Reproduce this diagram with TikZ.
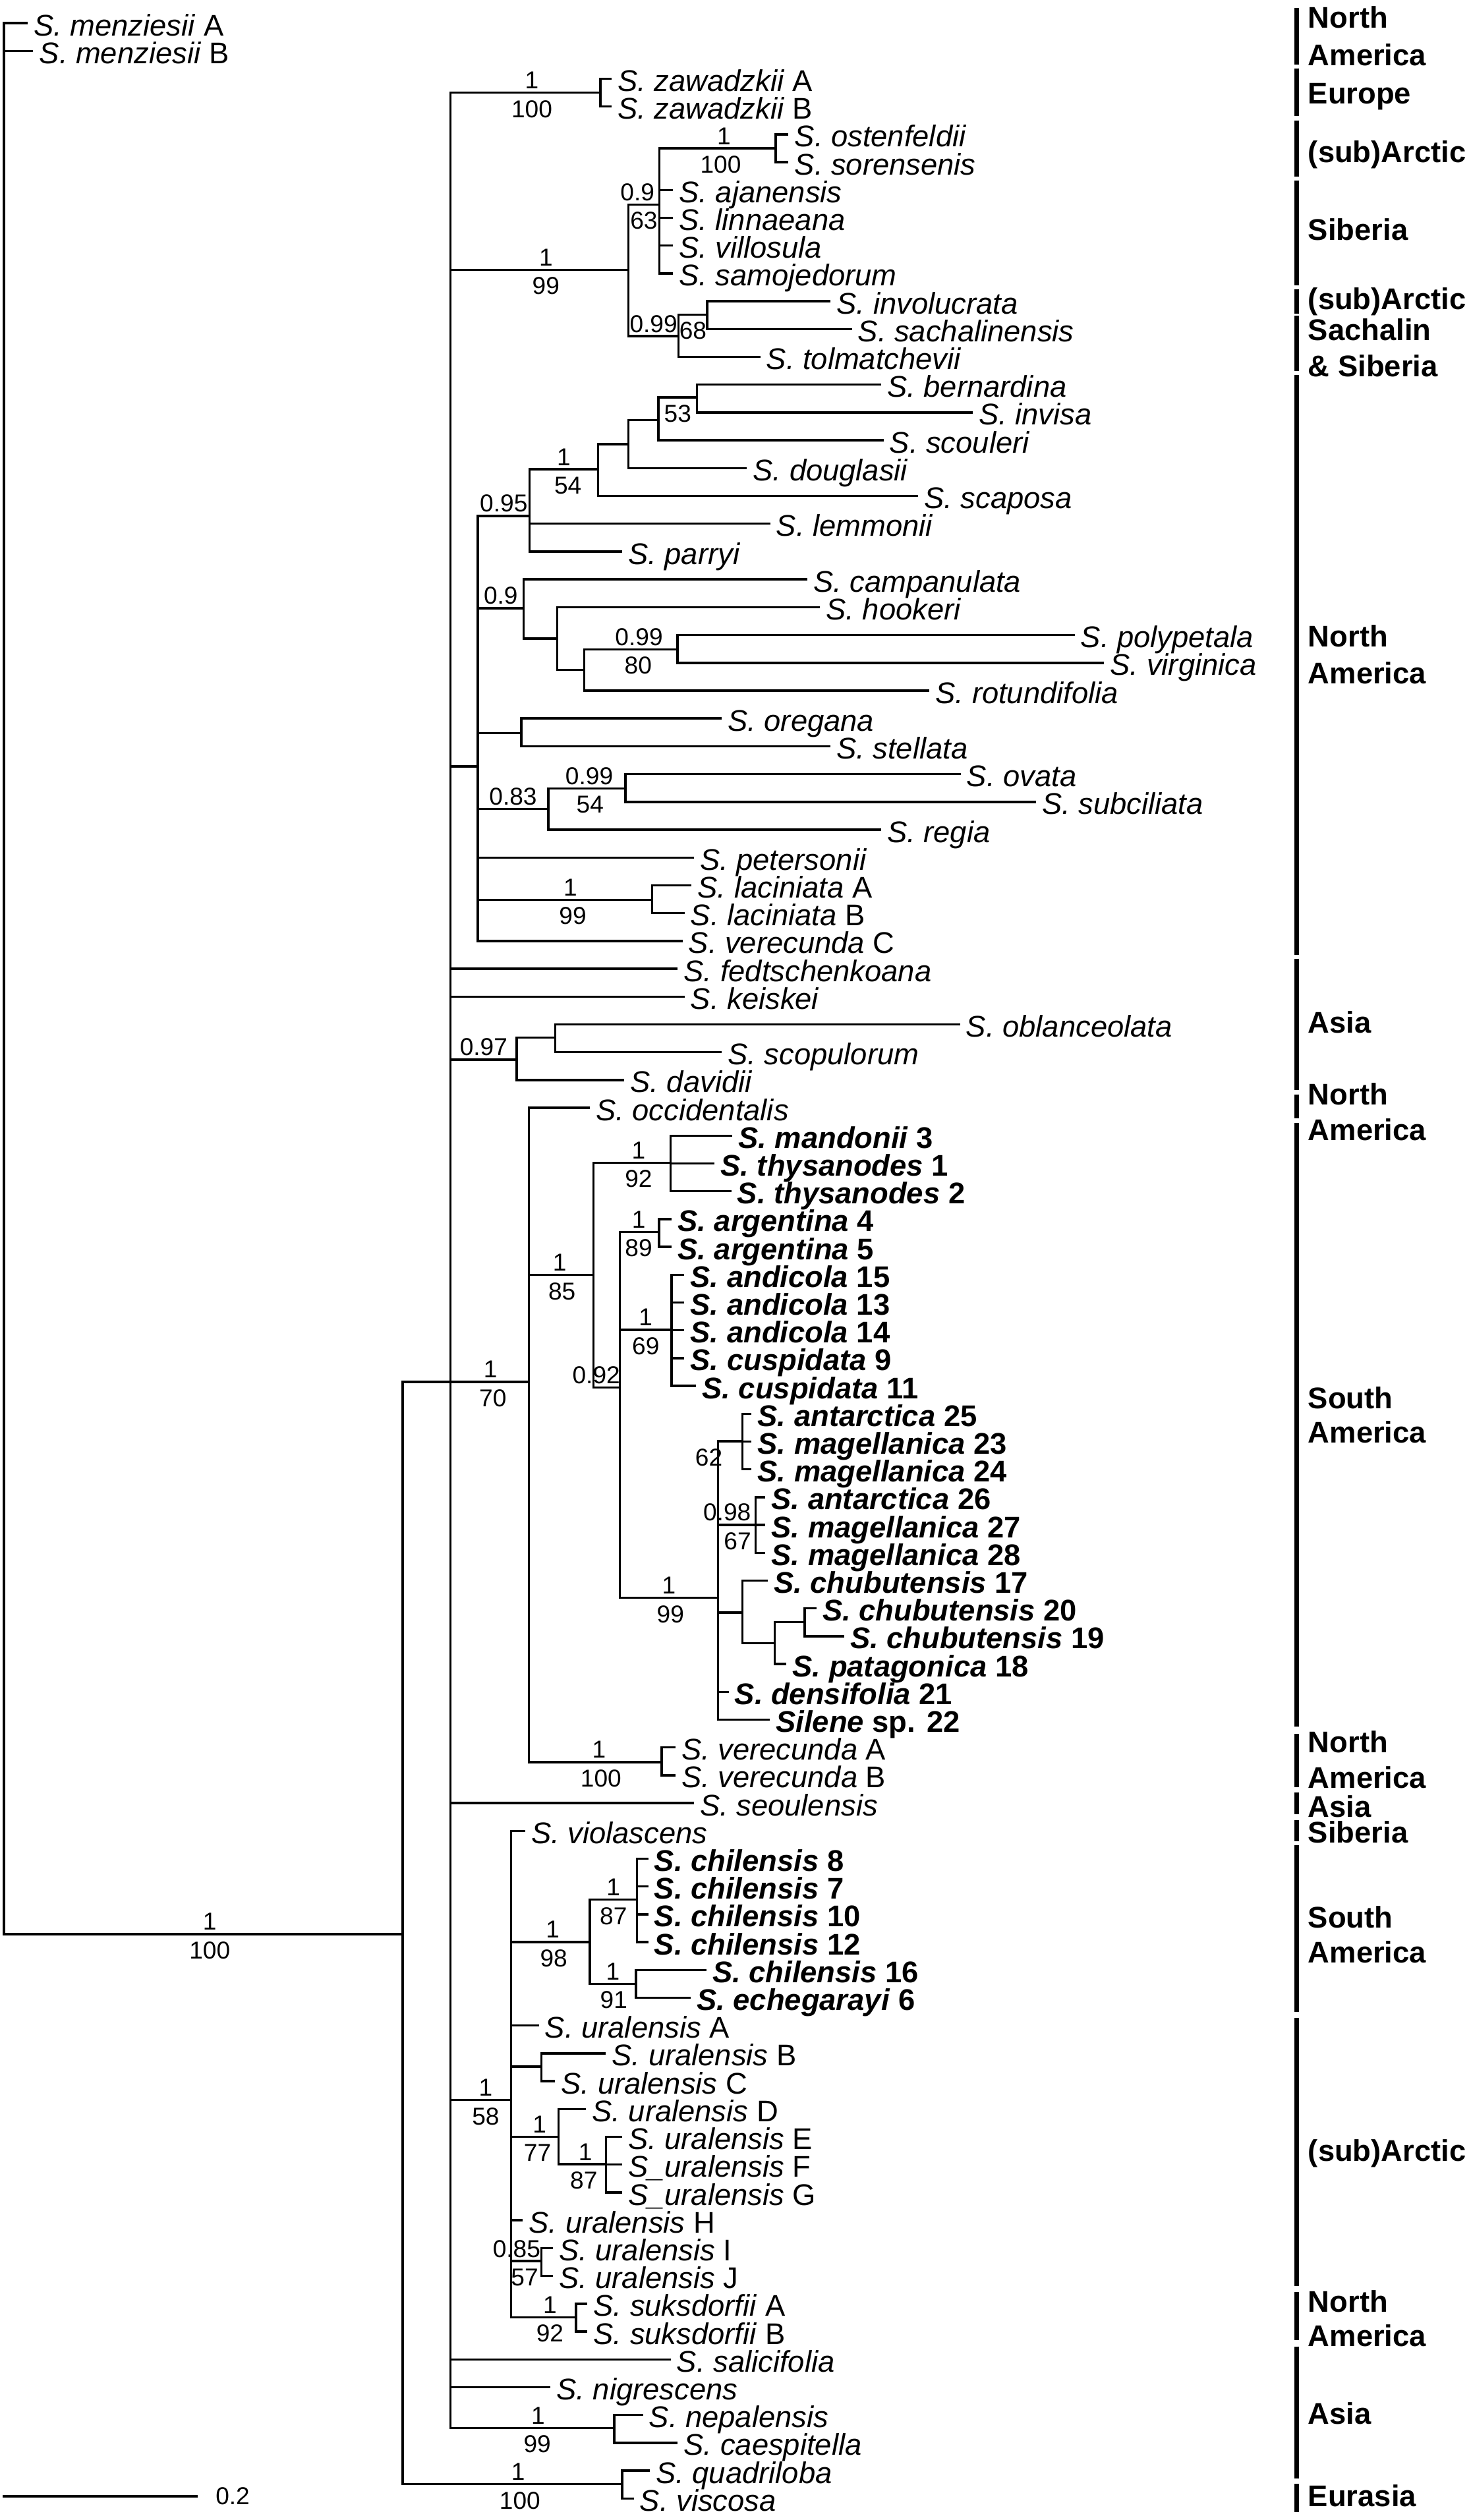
\documentclass[tikz,border=0pt]{standalone}
\usepackage{fontspec}
\setmainfont{Liberation Sans}
\usetikzlibrary{positioning}

\newcommand{\spn}[1]{\textit{S. #1}}
\newcommand{\spb}[2]{\textbf{\textit{S. #1} #2}}
\newcommand{\taxsize}{\fontsize{18.6}{22}\selectfont}
\newcommand{\supsize}{\fontsize{15.2}{18}\selectfont}

\tikzset{
  branch/.style={line width=1.4pt},
  regionbar/.style={line width=3pt},
  taxon/.style={anchor=base west,xshift=3.6pt,yshift=-7.8pt,font=\taxsize},
  pp/.style={anchor=south,yshift=2.3pt,font=\supsize},
  bs/.style={anchor=north,yshift=-4.5pt,font=\supsize},
  region/.style={anchor=base west,font=\taxsize\bfseries}
}

\begin{document}
\begin{tikzpicture}[x=1pt,y=-1pt,every node/.style={inner sep=0pt,text depth=0pt}]
    \useasboundingbox (0,0) rectangle (915,1568);
    % internal nodes: x of the vertical line, y where the stem joins
    \foreach \n/\x/\y in {root/2.5/600,ingrp/250.5/1203.4,core/280.3/859.8,zaw/373.5/57.7,arc/391/167.9,
        sib/410.2/127.2,ost/482.6/92.3,sach/422.2/209.2,invs/440/195.8,na/297.3/476.9,c095/329.5/321,
        c154/372.1/292,cbis/390.9/276.3,c53/409.6/261.5,bern/433.7/247.3,c09/325.8/378.5,hook/346.8/397.3,
        poly/363.5/416.9,polv/421.6/404,oreg/324.4/456.2,c083/341.1/503.3,ovat/389.1/490.6,laci/405.8/559.8,
        c097/321.5/659.3,obla/345.4/645.6,c170/329/859.8,c185/369.3/793.3,c192/417.3/723.4,c092/385.6/863.3,
        c189/410.1/766.5,c169/417.9/827.4,c199/446.7/994.2,c62/461.9/896.7,c098/470/948.8,chub/461.9/1003.4,
        chb2/482/1022.5,chb3/500.7/1009.4,vere/411.6/1096.4,c158/318/1306.7,c198/367/1208.4,c187/396.3/1182,
        c191/395.7/1234.4,urbc/336.8/1285.8,c177/347.4/1329.6,c187b/377/1346.6,urij/336.8/1406.9,
        suks/358.3/1441.8,nepa/382.2/1510.8,quad/387/1545.7}
        \coordinate (\n) at (\x,\y);
    % tips and their names
    \foreach \r/\x/\lbl in {1/17.2/\spn{menziesii} A,2/20.7/\spn{menziesii} B,3/380.5/\spn{zawadzkii} A,
        4/380.5/\spn{zawadzkii} B,5/490.6/\spn{ostenfeldii},6/490.6/\spn{sorensenis},7/418.7/\spn{ajanensis},
        8/418.7/\spn{linnaeana},9/418.7/\spn{villosula},10/418.7/\spn{samojedorum},11/516.8/\spn{involucrata},
        12/530/\spn{sachalinensis},13/473/\spn{tolmatchevii},14/548.2/\spn{bernardina},15/605.2/\spn{invisa},
        16/549.7/\spn{scouleri},17/464.7/\spn{douglasii},18/571.2/\spn{scaposa},19/479.2/\spn{lemmonii},
        20/387.1/\spn{parryi},21/502.2/\spn{campanulata},22/510.2/\spn{hookeri},23/668.6/\spn{polypetala},
        24/687/\spn{virginica},25/578.3/\spn{rotundifolia},26/449/\spn{oregana},27/516.6/\spn{stellata},
        28/597.7/\spn{ovata},29/644.6/\spn{subciliata},30/548.2/\spn{regia},31/431.7/\spn{petersonii},
        32/430.3/\spn{laciniata} A,33/425.9/\spn{laciniata} B,34/424.6/\spn{verecunda} C,
        35/421.7/\spn{fedtschenkoana},36/425.9/\spn{keiskei},37/597.3/\spn{oblanceolata},
        38/449/\spn{scopulorum},39/388.4/\spn{davidii},40/367/\spn{occidentalis},
        41/455.6/\spb{mandonii}{3},42/444.6/\spb{thysanodes}{1},43/455/\spb{thysanodes}{2},
        44/417.9/\spb{argentina}{4},45/417.9/\spb{argentina}{5},46/425.8/\spb{andicola}{15},
        47/425.8/\spb{andicola}{13},48/425.8/\spb{andicola}{14},49/425.8/\spb{cuspidata}{9},
        50/433.1/\spb{cuspidata}{11},51/467.6/\spb{antarctica}{25},52/467.6/\spb{magellanica}{23},
        53/467.6/\spb{magellanica}{24},54/476.2/\spb{antarctica}{26},55/476.2/\spb{magellanica}{27},
        56/476.2/\spb{magellanica}{28},57/477.7/\spb{chubutensis}{17},58/508/\spb{chubutensis}{20},
        59/525.2/\spb{chubutensis}{19},60/489.3/\spb{patagonica}{18},61/453.3/\spb{densifolia}{21},
        62/479/\textbf{\textit{Silene} sp. 22},63/420.2/\spn{verecunda} A,64/420.2/\spn{verecunda} B,
        65/431.7/\spn{seoulensis},66/326.7/\spn{violascens},67/403.3/\spb{chilensis}{8},
        68/403.3/\spb{chilensis}{7},69/403.3/\spb{chilensis}{10},70/403.3/\spb{chilensis}{12},
        71/439.5/\spb{chilensis}{16},72/429.7/\spb{echegarayi}{6},73/335.3/\spn{uralensis} A,
        74/377/\spn{uralensis} B,75/345.4/\spn{uralensis} C,76/364.6/\spn{uralensis} D,
        77/387/\spn{uralensis} E,78/387/\textit{S\_uralensis} F,79/387/\textit{S\_uralensis} G,
        80/325.3/\spn{uralensis} H,81/344/\spn{uralensis} I,82/344/\spn{uralensis} J,
        83/365.5/\spn{suksdorfii} A,84/365.5/\spn{suksdorfii} B,85/417.3/\spn{salicifolia},
        86/342.5/\spn{nigrescens},87/400/\spn{nepalensis},88/421.7/\spn{caespitella},
        89/404.3/\spn{quadriloba},90/394.3/\spn{viscosa}} {
        \coordinate (t\r) at (\x,{14.4+17.305*(\r-1)});
        \node[taxon] (lab\r) at (t\r) {\lbl};
    }
    % branches, parent to child
    \foreach \p/\c in {root/t1,root/t2,root/ingrp,ingrp/core,ingrp/quad,core/zaw,core/arc,core/na,core/t35,
        core/t36,core/c097,core/c170,core/t65,core/c158,core/t85,core/t86,core/nepa,zaw/t3,zaw/t4,arc/sib,
        arc/sach,sib/ost,sib/t7,sib/t8,sib/t9,sib/t10,ost/t5,ost/t6,sach/invs,sach/t13,invs/t11,invs/t12,
        na/c095,na/c09,na/oreg,na/c083,na/t31,na/laci,na/t34,c095/c154,c095/t19,c095/t20,c154/cbis,c154/t18,
        cbis/c53,cbis/t17,c53/bern,c53/t16,bern/t14,bern/t15,c09/t21,c09/hook,hook/t22,hook/poly,poly/polv,
        poly/t25,polv/t23,polv/t24,oreg/t26,oreg/t27,c083/ovat,c083/t30,ovat/t28,ovat/t29,laci/t32,laci/t33,
        c097/obla,c097/t39,obla/t37,obla/t38,c170/t40,c170/c185,c170/vere,c185/c192,c185/c092,c192/t41,
        c192/t42,c192/t43,c092/c189,c092/c169,c092/c199,c189/t44,c189/t45,c169/t46,c169/t47,c169/t48,
        c169/t49,c169/t50,c199/c62,c199/c098,c199/chub,c199/t61,c199/t62,c62/t51,c62/t52,c62/t53,c098/t54,
        c098/t55,c098/t56,chub/t57,chub/chb2,chb2/chb3,chb2/t60,chb3/t58,chb3/t59,vere/t63,vere/t64,
        c158/t66,c158/c198,c158/t73,c158/urbc,c158/c177,c158/t80,c158/urij,c158/suks,c198/c187,c198/c191,
        c187/t67,c187/t68,c187/t69,c187/t70,c191/t71,c191/t72,urbc/t74,urbc/t75,c177/t76,c177/c187b,
        c187b/t77,c187b/t78,c187b/t79,urij/t81,urij/t82,suks/t83,suks/t84,nepa/t87,nepa/t88,quad/t89,quad/t90}
        \draw[branch] (\p) |- (\c);
    % support values above / below the stems
    \foreach \p/\c/\a/\sa/\b/\sb [count=\i] in {root/ingrp/1/4/100/4,core/zaw/1/4/100/4,core/arc/1/4/99/4,
        arc/sib/0.9/-4/63/0,sib/ost/1/4/100/2,arc/sach/0.99/0/{}/0,sach/invs/{}/0/68/0,na/c095/0.95/0/{}/0,
        c095/c154/1/0/54/2.5,c53/bern/{}/0/53/0,na/c09/0.9/0/{}/0,poly/polv/0.99/5/80/4.5,na/c083/0.83/0/{}/0,
        c083/ovat/0.99/1.5/54/2,na/laci/1/3.3/99/4.8,core/c097/0.97/0/{}/0,core/c170/1/0.5/70/2,
        c170/c185/1/-1/85/0.5,c185/c192/1/4/92/4,c185/c092/0.92/-6.5/{}/0,c092/c189/1/-0.5/89/-0.5,
        c092/c169/1/0/69/0,c092/c199/1/0/99/1,c199/c62/{}/0/62/-13.3,c199/c098/0.98/-6/67/0.5,
        c170/vere/1/2.4/100/3.6,core/c158/1/3/58/3,c158/c198/1/1.4/98/2,c198/c187/1/0/87/0,
        c198/c191/1/0/91/0.5,c158/c177/1/3/77/1.7,c177/c187b/1/2/87/1,c158/urij/0.85/-6/57/-1,
        c158/suks/1/4/92/4,core/nepa/1/3.5/99/3,ingrp/quad/1/3.6/100/4.7}
        \path (\p) |- (\c) node[pp,pos=.75,xshift=\sa pt] (pp\i) {\a} node[bs,pos=.75,xshift=\sb pt] (bs\i) {\b};
    % scale bar
    \coordinate (sb0) at (1.8,1553.2);
    \coordinate (sb1) at (123,1553.2);
    \draw[branch] (sb0) -- (sb1);
    \node[font=\supsize,right=11pt of sb1] (sblab) {0.2};
    % distribution bars and areas
    \foreach \a/\b [count=\i] in {5/40,42.5/72,75/110,112.5/177.5,180/195,196.5/231,233.5/594,596.5/678,
        681/696,698.5/1074.5,1079/1112,1115.5/1129,1132.5/1145.5,1148/1252,1255.5/1422.5,1426/1456,
        1460/1542,1545.5/1563} {
        \coordinate (bt\i) at (806.8,\a);
        \coordinate (bb\i) at (806.8,\b);
        \draw[regionbar] (bt\i) -- (bb\i);
    }
    \foreach \y/\area [count=\i] in {17.6/North,40.6/America,64.6/Europe,101.1/(sub)Arctic,149.6/Siberia,
        192.6/(sub)Arctic,211.6/Sachalin,234.2/\& Siberia,402.6/North,425.6/America,642.6/Asia,687.6/North,
        709.6/America,876.6/South,897.6/America,1090.6/North,1112.6/America,1130.6/Asia,1146.6/Siberia,
        1199.6/South,1221.1/America,1344.6/(sub)Arctic,1438.6/North,1460.1/America,1508.2/Asia,1559.6/Eurasia}
        \node[region] (area\i) at (813.7,\y) {\area};
\end{tikzpicture}
\end{document}
